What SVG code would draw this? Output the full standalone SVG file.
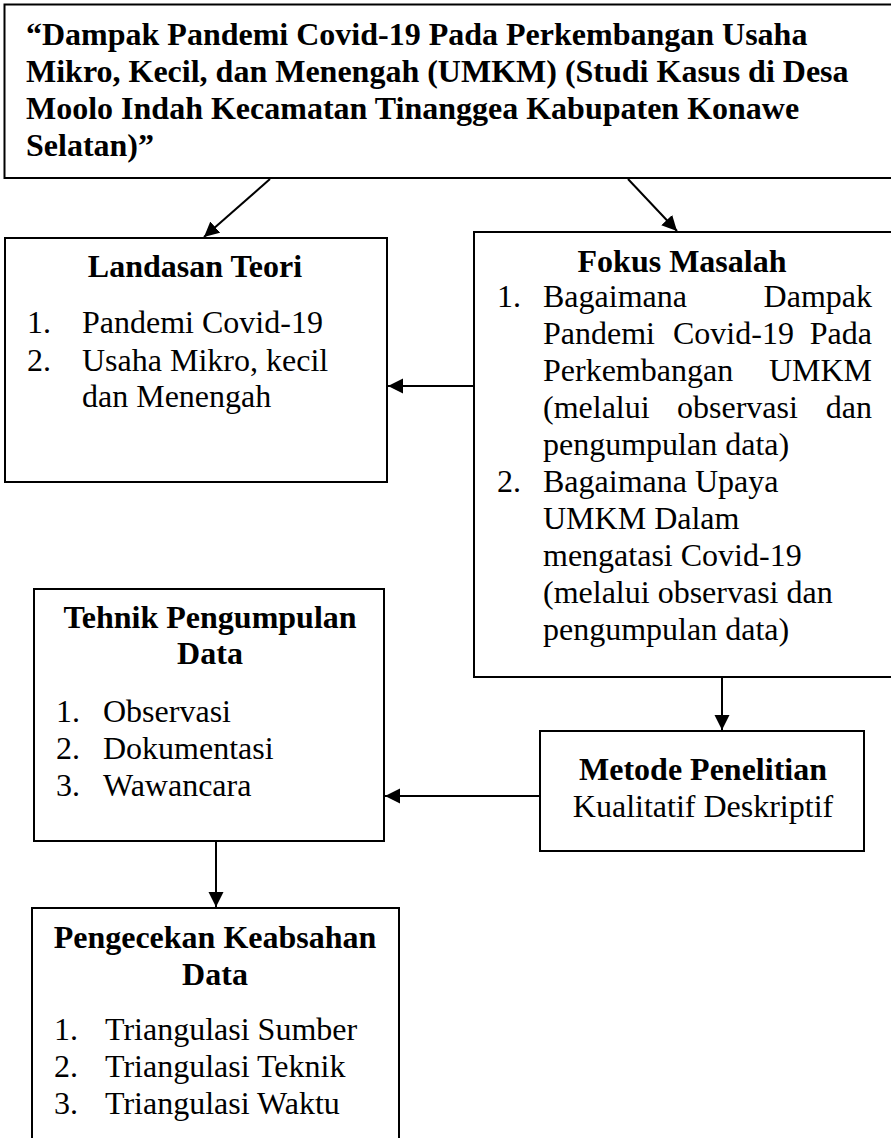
<svg xmlns="http://www.w3.org/2000/svg" width="891" height="1138" viewBox="0 0 891 1138">
<style>
.box{fill:#fff;stroke:#000;stroke-width:2}
.t{font-family:"Liberation Serif","Times New Roman",serif;font-size:32px;fill:#000}
.b{font-weight:bold}
.c{text-anchor:middle}
.e{text-anchor:end}
.con line{stroke:#000;stroke-width:2}
</style>
<defs>
<marker id="ah" markerUnits="userSpaceOnUse" markerWidth="16" markerHeight="16" refX="15" refY="7.5" orient="auto">
<path d="M0,0 L15,7.5 L0,15 z" fill="#000"/>
</marker>
</defs>
<rect width="891" height="1138" fill="#fff"/>
<g id="judul">
<rect class="box" x="4.5" y="4.5" width="890" height="173.5"/>
<text class="t b" x="26" y="45">“Dampak Pandemi Covid-19 Pada Perkembangan Usaha</text>
<text class="t b" x="26" y="82">Mikro, Kecil, dan Menengah (UMKM) (Studi Kasus di Desa</text>
<text class="t b" x="26" y="119">Moolo Indah Kecamatan Tinanggea Kabupaten Konawe</text>
<text class="t b" x="26" y="156">Selatan)”</text>
</g>
<g id="landasan">
<rect class="box" x="5" y="238" width="382" height="244"/>
<text class="t b c" x="195" y="277">Landasan Teori</text>
<text class="t" x="27" y="333">1.</text>
<text class="t" x="82" y="333">Pandemi Covid-19</text>
<text class="t" x="27" y="371">2.</text>
<text class="t" x="82" y="371">Usaha Mikro, kecil</text>
<text class="t" x="82" y="407">dan Menengah</text>
</g>
<g id="fokus">
<rect class="box" x="474" y="232" width="420" height="445"/>
<text class="t b c" x="682" y="272">Fokus Masalah</text>
<text class="t" x="497" y="307">1.</text>
<text class="t" x="543" y="307">Bagaimana</text>
<text class="t e" x="872" y="307">Dampak</text>
<text class="t" x="543" y="344">Pandemi</text>
<text class="t" x="673" y="344">Covid-19</text>
<text class="t e" x="872" y="344">Pada</text>
<text class="t" x="543" y="381">Perkembangan</text>
<text class="t e" x="872" y="381">UMKM</text>
<text class="t" x="543" y="418">(melalui</text>
<text class="t" x="677" y="418">observasi</text>
<text class="t e" x="872" y="418">dan</text>
<text class="t" x="543" y="455">pengumpulan data)</text>
<text class="t" x="497" y="492">2.</text>
<text class="t" x="543" y="492">Bagaimana Upaya</text>
<text class="t" x="543" y="529">UMKM Dalam</text>
<text class="t" x="543" y="566">mengatasi Covid-19</text>
<text class="t" x="543" y="603">(melalui observasi dan</text>
<text class="t" x="543" y="640">pengumpulan data)</text>
</g>
<g id="tehnik">
<rect class="box" x="34" y="589" width="350" height="252"/>
<text class="t b c" x="210" y="628">Tehnik Pengumpulan</text>
<text class="t b c" x="210" y="664">Data</text>
<text class="t" x="56" y="722">1.</text>
<text class="t" x="103" y="722">Observasi</text>
<text class="t" x="56" y="759">2.</text>
<text class="t" x="103" y="759">Dokumentasi</text>
<text class="t" x="56" y="796">3.</text>
<text class="t" x="103" y="796">Wawancara</text>
</g>
<g id="metode">
<rect class="box" x="540" y="731" width="324" height="120"/>
<text class="t b c" x="703" y="780">Metode Penelitian</text>
<text class="t c" x="703" y="817">Kualitatif Deskriptif</text>
</g>
<g id="pengecekan">
<rect class="box" x="32" y="908" width="367" height="240"/>
<text class="t b c" x="215" y="948">Pengecekan Keabsahan</text>
<text class="t b c" x="215" y="985">Data</text>
<text class="t" x="54" y="1040">1.</text>
<text class="t" x="105" y="1040">Triangulasi Sumber</text>
<text class="t" x="54" y="1077">2.</text>
<text class="t" x="105" y="1077">Triangulasi Teknik</text>
<text class="t" x="54" y="1114">3.</text>
<text class="t" x="105" y="1114">Triangulasi Waktu</text>
</g>
<g id="connectors" class="con">
<line x1="270" y1="179" x2="204" y2="237" marker-end="url(#ah)"/>
<line x1="628" y1="179" x2="677" y2="231" marker-end="url(#ah)"/>
<line x1="474" y1="386" x2="388" y2="386" marker-end="url(#ah)"/>
<line x1="722" y1="678" x2="722" y2="730" marker-end="url(#ah)"/>
<line x1="540" y1="796" x2="385" y2="796" marker-end="url(#ah)"/>
<line x1="216" y1="842" x2="216" y2="907" marker-end="url(#ah)"/>
</g>
</svg>
